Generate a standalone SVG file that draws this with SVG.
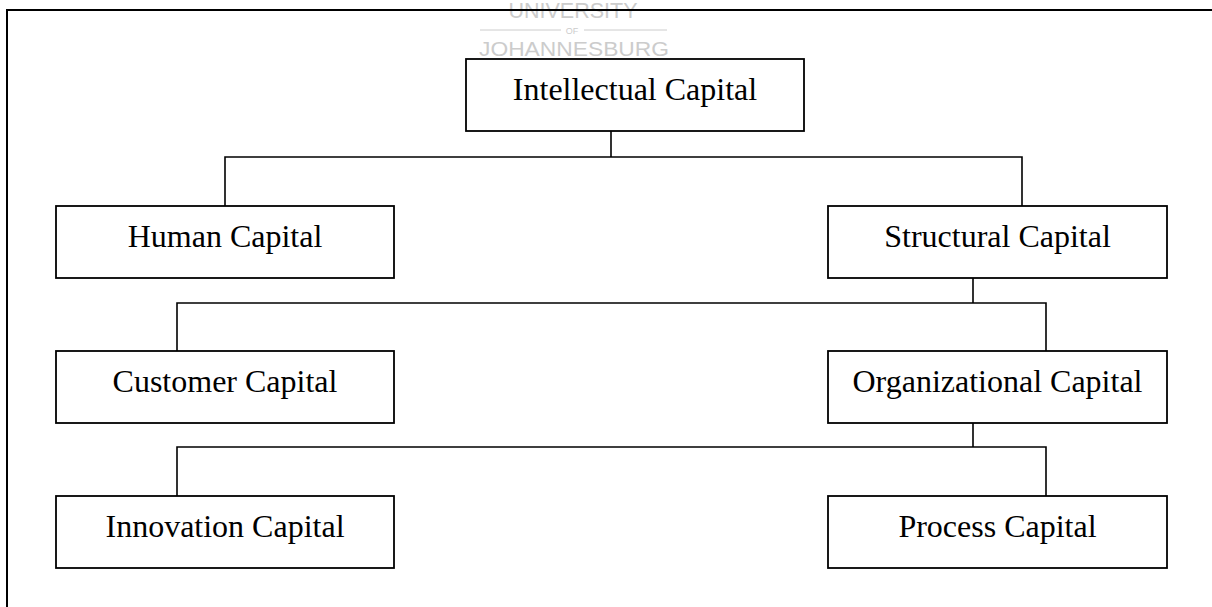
<svg xmlns="http://www.w3.org/2000/svg" width="1212" height="607" viewBox="0 0 1212 607">
  <style>
    .box { fill: #ffffff; stroke: #000000; stroke-width: 1.8; }
    .label { font-family: "Liberation Serif", "Times New Roman", serif; font-size: 32px; fill: #000000; text-anchor: middle; }
    .link { fill: none; stroke: #000000; stroke-width: 1.6; }
    .frame { fill: none; stroke: #000000; stroke-width: 2; }
    .mark { font-family: "Liberation Sans", Arial, sans-serif; fill: #cccccc; text-anchor: middle; }
  </style>

  <rect x="0" y="0" width="1212" height="607" fill="#ffffff"/>

  <!-- faint institutional watermark behind the top border -->
  <g id="watermark">
    <text class="mark" x="573" y="18" font-size="21.5" textLength="129" lengthAdjust="spacingAndGlyphs">UNIVERSITY</text>
    <line x1="480" y1="30" x2="561" y2="30" stroke="#cccccc" stroke-width="1"/>
    <text class="mark" x="572" y="33.5" font-size="9">OF</text>
    <line x1="584" y1="30" x2="667" y2="30" stroke="#cccccc" stroke-width="1"/>
    <text class="mark" x="574" y="56" font-size="20" textLength="190" lengthAdjust="spacingAndGlyphs">JOHANNESBURG</text>
  </g>

  <!-- open page border: top and left edges only -->
  <path class="frame" d="M7,607 V10 H1212"/>

  <g id="connectors">
    <path class="link" d="M611,131 V157 M225,206 V157 H1022 V206"/>
    <path class="link" d="M973,278 V303 M177,351 V303 H1046 V351"/>
    <path class="link" d="M973,423 V447 M177,496 V447 H1046 V496"/>
  </g>

  <g id="intellectual-capital">
    <rect class="box" x="466" y="59" width="338" height="72"/>
    <text class="label" x="635" y="100">Intellectual Capital</text>
  </g>

  <g id="human-capital">
    <rect class="box" x="56" y="206" width="338" height="72"/>
    <text class="label" x="225" y="247">Human Capital</text>
  </g>

  <g id="structural-capital">
    <rect class="box" x="828" y="206" width="339" height="72"/>
    <text class="label" x="997.5" y="247">Structural Capital</text>
  </g>

  <g id="customer-capital">
    <rect class="box" x="56" y="351" width="338" height="72"/>
    <text class="label" x="225" y="392">Customer Capital</text>
  </g>

  <g id="organizational-capital">
    <rect class="box" x="828" y="351" width="339" height="72"/>
    <text class="label" x="997.5" y="392">Organizational Capital</text>
  </g>

  <g id="innovation-capital">
    <rect class="box" x="56" y="496" width="338" height="72"/>
    <text class="label" x="225" y="537">Innovation Capital</text>
  </g>

  <g id="process-capital">
    <rect class="box" x="828" y="496" width="339" height="72"/>
    <text class="label" x="997.5" y="537">Process Capital</text>
  </g>
</svg>
